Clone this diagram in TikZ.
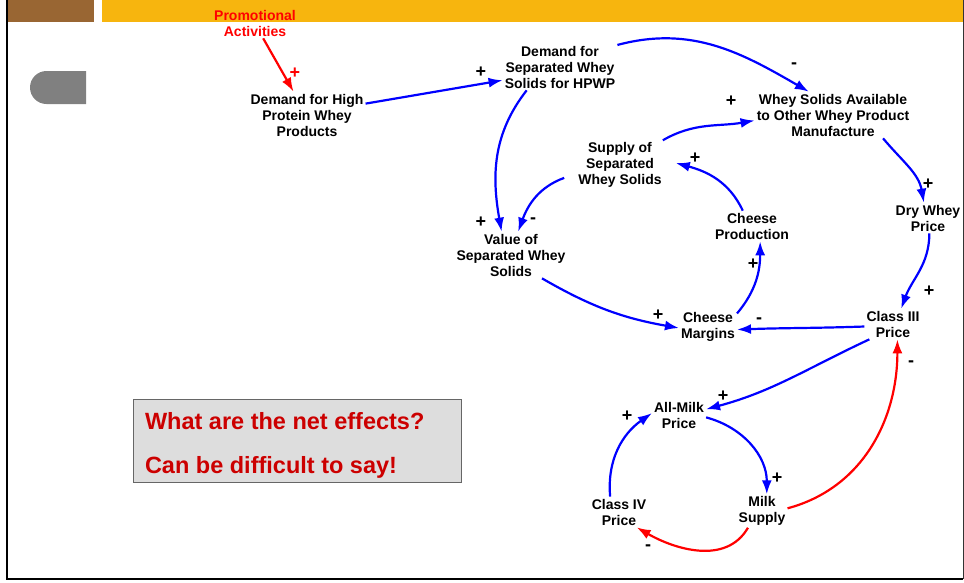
\documentclass[tikz,border=0pt]{standalone}
\usepackage{fontspec}
\setmainfont{Liberation Sans}
\usetikzlibrary{arrows.meta}
\definecolor{barbrown}{RGB}{153,102,51}
\definecolor{barorange}{RGB}{247,181,14}
\definecolor{boxgray}{RGB}{221,221,221}
\definecolor{darkred}{RGB}{204,0,0}
\tikzset{
  var/.style={align=center, font=\bfseries\fontsize{14}{16}\selectfont, inner sep=2pt},
  sgn/.style={font=\bfseries\fontsize{18}{18}\selectfont, inner sep=0pt},
  bluelink/.style={draw=blue, line width=2.2pt, -{Latex[length=14pt,width=10pt]}},
  redlink/.style={draw=red, line width=2.2pt, -{Latex[length=14pt,width=10pt]}}
}
\begin{document}
\begin{tikzpicture}[x=1pt,y=1pt]
        \useasboundingbox (0,0) rectangle (964,-582);
        % frame and title bars
        \fill[barbrown] (8,0) rectangle (94,-22);
        \fill[barorange] (102,0) rectangle (963,-22);
        \draw[line width=2pt] (7,0) -- (7,-579) -- (963,-579);
        \draw[line width=1pt,black!80] (963,0) -- (963,-579);
        \fill[gray] (86,-71) -- (46.5,-71) arc (90:270:16.5) -- (86,-104) -- cycle;

        \node[var,text=red] (promo) at (255,-23) {Promotional\\Activities};
        \node[var] (dhigh) at (307,-115) {Demand for High\\Protein Whey\\Products};
        \node[var] (dsep) at (560,-67) {Demand for\\Separated Whey\\Solids for HPWP};
        \node[var] (avail) at (833,-115) {Whey Solids Available\\to Other Whey Product\\Manufacture};
        \node[var,inner xsep=14pt] (supply) at (620,-165) {Supply of\\Separated\\Whey Solids};
        \node[var] (cprod) at (752,-226) {Cheese\\Production};
        \node[var] (dry) at (928,-218) {Dry Whey\\Price};
        \node[var] (value) at (511,-255) {Value of\\Separated Whey\\Solids};
        \node[var] (margins) at (708,-327) {Cheese\\Margins};
        \node[var] (classiii) at (893,-324) {Class III\\Price};
        \node[var] (allmilk) at (679,-415) {All-Milk\\Price};
        \node[var] (classiv) at (619,-512) {Class IV\\Price};
        \node[var] (milk) at (762,-511) {Milk\\Supply};

        \node[draw=black!60, fill=boxgray, minimum width=328, minimum height=83] (question) at (297,-440.5) {};
        \node[anchor=west, align=left, inner sep=0pt, text=darkred,
              font=\bfseries\fontsize{23.5}{44}\selectfont]
              (qtext) at ([xshift=12pt,yshift=-4.5pt]question.west) {What are the net effects?\\Can be difficult to say!};

        \path[redlink] (promo.-62) -- (dhigh.120);
        \path[bluelink] (dhigh.11) -- (dsep.-167);
        \path[bluelink] (dsep.21) to[out=15,in=150] (avail.136);
        \path[bluelink] (dsep.-145) to[out=232,in=100] (value.112);
        \path[bluelink] (supply.193) to[out=200,in=70] (value.73);
        \path[bluelink] (supply.30) to[out=30,in=190] (avail.-176);
        \path[bluelink] (cprod.121) to[out=115,in=-15] (supply.2);
        \path[bluelink] (avail.-25) to[out=-50,in=100] (dry.105);
        \path[bluelink] (dry.-85) to[out=-90,in=70] (classiii.62);
        \path[bluelink] (classiii.185) to[out=182,in=2] (margins.-5);
        \path[bluelink] (value.-37) to[out=-30,in=170] (margins.182);
        \path[bluelink] (margins.25) to[out=50,in=-90] (cprod.-62);
        \path[bluelink] (classiii.-147) to[out=205,in=15] (allmilk.12);
        \path[bluelink] (allmilk.-5) to[out=-15,in=90] (milk.74);
        \path[bluelink] (classiv.120) to[out=95,in=215] (allmilk.176);
        \path[redlink] (milk.-130) to[out=-120,in=-30] (classiv.-41);
        \path[redlink] (milk.6) to[out=15,in=-90] (classiii.-74);

        % polarity signs
        \node[sgn,text=red] (s1) at (295,-73) {+};
        \node[sgn] (s2) at (481,-72) {+};
        \node[sgn] (s3) at (794,-66) {-};
        \node[sgn] (s4) at (481,-222) {+};
        \node[sgn] (s5) at (533,-221) {-};
        \node[sgn] (s6) at (731,-101) {+};
        \node[sgn] (s7) at (695,-158) {+};
        \node[sgn] (s8) at (928,-184) {+};
        \node[sgn] (s9) at (929,-291) {+};
        \node[sgn] (s10) at (759,-321) {-};
        \node[sgn] (s11) at (658,-315) {+};
        \node[sgn] (s12) at (753,-264) {+};
        \node[sgn] (s13) at (723,-396) {+};
        \node[sgn] (s14) at (777,-478) {+};
        \node[sgn] (s15) at (627,-416) {+};
        \node[sgn] (s16) at (648,-548) {-};
        \node[sgn] (s17) at (911,-364) {-};
    \end{tikzpicture}
\end{document}
